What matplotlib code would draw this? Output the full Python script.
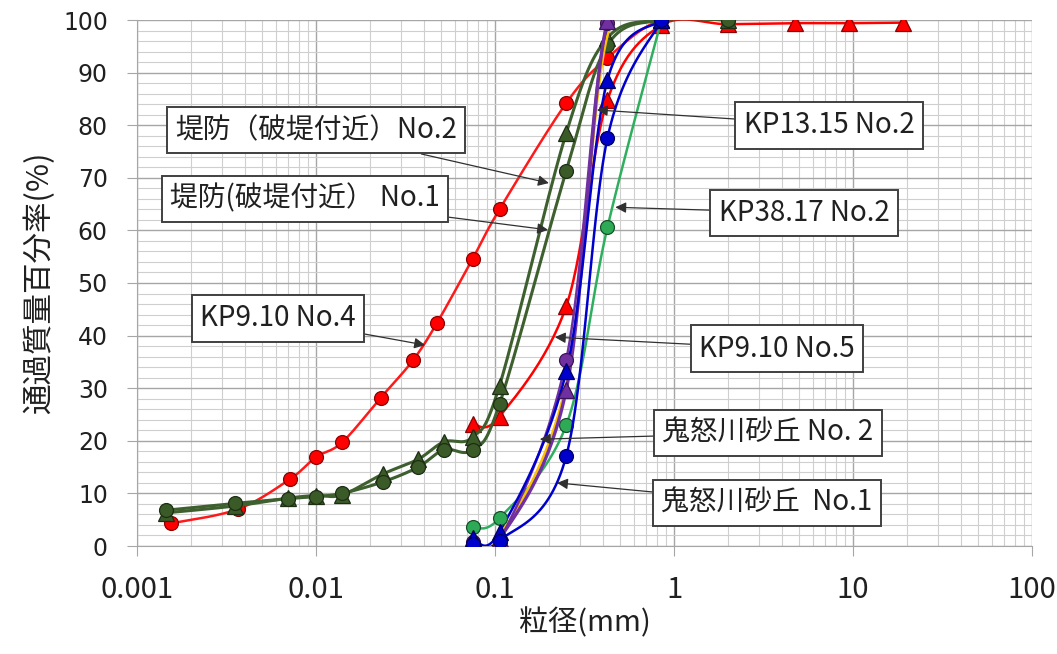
import matplotlib
matplotlib.use("Agg")
import matplotlib.pyplot as plt
import numpy as np
from matplotlib.ticker import LogLocator, MultipleLocator, FixedLocator

plt.rcParams['font.family'] = ['Noto Sans CJK JP', 'DejaVu Sans']

# sieve sizes (mm)
sieve = [0.075, 0.106, 0.25, 0.425, 0.85, 2.0, 4.75, 9.5, 19.0]

# KP9.10 No.4 (red circles, with hydrometer part)
kp910_4_x = [0.00155, 0.00366, 0.00715, 0.0100, 0.0140, 0.0230, 0.0348, 0.0474,
             0.075, 0.106, 0.25, 0.425, 0.85, 2.0]
kp910_4_y = [4.3, 7.0, 12.7, 16.9, 19.7, 28.2, 35.3, 42.4,
             54.6, 64.0, 84.2, 92.8, 100.0, 100.0]

# KP9.10 No.5 (red triangles)
kp910_5_x = sieve
kp910_5_y = [23.2, 24.6, 45.6, 84.8, 99.0, 99.2, 99.4, 99.4, 99.5]

# 堤防 No.1 / No.2 (dark green)
tei_x = [0.00145, 0.00352, 0.00698, 0.0100, 0.01396, 0.0237, 0.0372, 0.0519,
         0.075, 0.106, 0.25, 0.425, 0.85, 2.0]
tei1_y = [6.8, 8.1, 9.0, 9.4, 10.0, 12.2, 15.0, 18.3,
          18.3, 27.0, 71.3, 95.2, 100.0, 100.0]
tei2_y = [6.3, 7.6, 9.1, 9.6, 9.7, 13.7, 16.5, 19.8,
          20.7, 30.5, 78.5, 96.6, 100.0, 100.0]

sand_x = [0.075, 0.106, 0.25, 0.425, 0.85]
kp3817_y = [3.6, 5.3, 23.0, 60.6, 100.0]      # green circles
kp1315_y = [1.0, 1.8, 31.0, 97.0, 100.0]      # yellow line
purple_c_y = [0.8, 1.0, 35.4, 99.5, 100.0]    # purple circles
kinu2_y = [1.0, 1.3, 29.7, 99.8, 100.0]       # purple triangles
blue_t_y = [1.5, 2.7, 33.2, 88.6, 100.0]      # blue triangles
kinu1_y = [0.3, 1.0, 17.1, 77.6, 100.0]       # blue circles

labels = ["堤防（破堤付近）No.2", "堤防(破堤付近） No.1", "KP9.10 No.4",
          "KP13.15 No.2", "KP38.17 No.2", "KP9.10 No.5",
          "鬼怒川砂丘 No. 2", "鬼怒川砂丘  No.1"]

xtick_labels = ['0.001', '0.01', '0.1', '1', '10', '100']
ytick_labels = [str(v) for v in range(0, 101, 10)]


def smooth(xs, ys, n=30):
    """Excel-like smoothed line (Catmull-Rom Bezier) in log-x space."""
    u = np.log10(np.asarray(xs, float))
    v = np.asarray(ys, float)
    pts = np.column_stack([u, v])
    ext = np.vstack([pts[0], pts, pts[-1]])
    out = [pts[:1]]
    t = np.linspace(0, 1, n)[1:, None]
    for i in range(1, len(ext) - 2):
        p0, p1, p2, p3 = ext[i - 1], ext[i], ext[i + 1], ext[i + 2]
        b1 = p1 + (p2 - p0) / 6
        b2 = p2 - (p3 - p1) / 6
        seg = ((1 - t) ** 3 * p1 + 3 * (1 - t) ** 2 * t * b1
               + 3 * (1 - t) * t ** 2 * b2 + t ** 3 * p2)
        out.append(seg)
    res = np.vstack(out)
    return 10 ** res[:, 0], res[:, 1]


def series(ax, xs, ys, color, marker, face, edge, lw=1.8, z=3):
    sx, sy = smooth(xs, ys)
    ax.plot(sx, sy, color=color, lw=lw, zorder=z, solid_capstyle='round')
    if marker:
        ms = 11 if marker == '^' else 10
        ax.plot(xs, ys, ls='none', marker=marker, ms=ms, mfc=face, mec=edge,
                mew=0.9, zorder=z + 0.5)


def main():
    fig = plt.figure(figsize=(10.57, 6.54), dpi=100)
    ax = fig.add_axes([137 / 1057, 1 - 546 / 654, (1032 - 137) / 1057, (546 - 20) / 654])

    ax.set_xscale('log')
    ax.set_xlim(0.001, 100)
    ax.set_ylim(0, 100)

    ax.xaxis.set_major_locator(FixedLocator([0.001, 0.01, 0.1, 1, 10, 100]))
    ax.xaxis.set_minor_locator(LogLocator(base=10, subs=np.arange(2, 10)))
    ax.set_xticklabels(xtick_labels)
    ax.set_yticks(range(0, 101, 10))
    ax.set_yticklabels(ytick_labels)
    ax.yaxis.set_minor_locator(MultipleLocator(2))

    ax.grid(which='major', color='#A6A6A6', lw=1.0, zorder=0)
    ax.grid(which='minor', color='#CFCFCF', lw=0.8, zorder=0)
    ax.set_axisbelow(True)
    for s in ['top', 'right']:
        ax.spines[s].set_visible(False)
    for s in ['left', 'bottom']:
        ax.spines[s].set_color('#A6A6A6')

    ax.tick_params(axis='y', which='major', length=7, color='#A6A6A6', pad=14,
                   labelsize=17, labelcolor='#202020',
                   labelfontfamily='DejaVu Sans')
    ax.tick_params(axis='x', which='major', length=7, color='#A6A6A6', pad=14,
                   labelsize=21, labelcolor='#202020')
    ax.tick_params(which='minor', length=0)

    # data series
    series(ax, kp910_5_x, kp910_5_y, '#FF0000', '^', '#FF0000', '#8B0000', z=3)
    series(ax, kp910_4_x, kp910_4_y, '#FF1A1A', 'o', '#FF0000', '#8B0000', z=3.1)
    series(ax, tei_x, tei2_y, '#3E5F2E', '^', '#3A5A28', '#1E2E14', lw=2.2, z=4)
    series(ax, tei_x, tei1_y, '#3E5F2E', 'o', '#3A5A28', '#1E2E14', lw=2.2, z=4.1)
    series(ax, sand_x, kp3817_y, '#2EAF5E', 'o', '#2EAA57', '#16502A', z=5)
    series(ax, sand_x, kp1315_y, '#FFC000', None, None, None, z=5.1)
    series(ax, sand_x, purple_c_y, '#7030A0', 'o', '#7030A0', '#3A1656', z=5.2)
    series(ax, sand_x, kinu2_y, '#7030A0', '^', '#7030A0', '#3A1656', lw=2.4, z=5.3)
    series(ax, sand_x, blue_t_y, '#0000CC', '^', '#0000CC', '#00005A', z=5.4)
    series(ax, sand_x, kinu1_y, '#0000CC', 'o', '#0000CC', '#00005A', z=5.5)

    # callouts: (text position, arrow tip)
    spots = [((0.0100, 79.1), (0.200, 69.0)),
             ((0.00868, 66.0), (0.198, 60.1)),
             ((0.00613, 43.3), (0.0407, 38.2)),
             ((7.35, 80.0), (0.371, 82.9)),
             ((5.32, 63.3), (0.47, 64.4)),
             ((3.76, 37.5), (0.216, 39.7)),
             ((3.35, 21.5), (0.178, 20.3)),
             ((3.31, 8.2), (0.222, 12.0))]
    for text, (tpos, tip) in zip(labels, spots):
        ax.annotate(text, xy=tip, xytext=tpos, ha='center', va='center',
                    fontsize=20, color='#202020', zorder=10,
                    bbox=dict(boxstyle='square,pad=0.3', fc='white',
                              ec='#404040', lw=1.4),
                    arrowprops=dict(arrowstyle='-|>', color='#303030', lw=0.9,
                                    mutation_scale=16, shrinkA=0, shrinkB=0))

    ax.set_xlabel('粒径(mm)', fontsize=21, color='#202020', labelpad=2)
    ax.set_ylabel('通過質量百分率(%)', fontsize=22, color='#202020', labelpad=6)

    fig.savefig('out.png', dpi=100)


if __name__ == "__main__":
    main()
